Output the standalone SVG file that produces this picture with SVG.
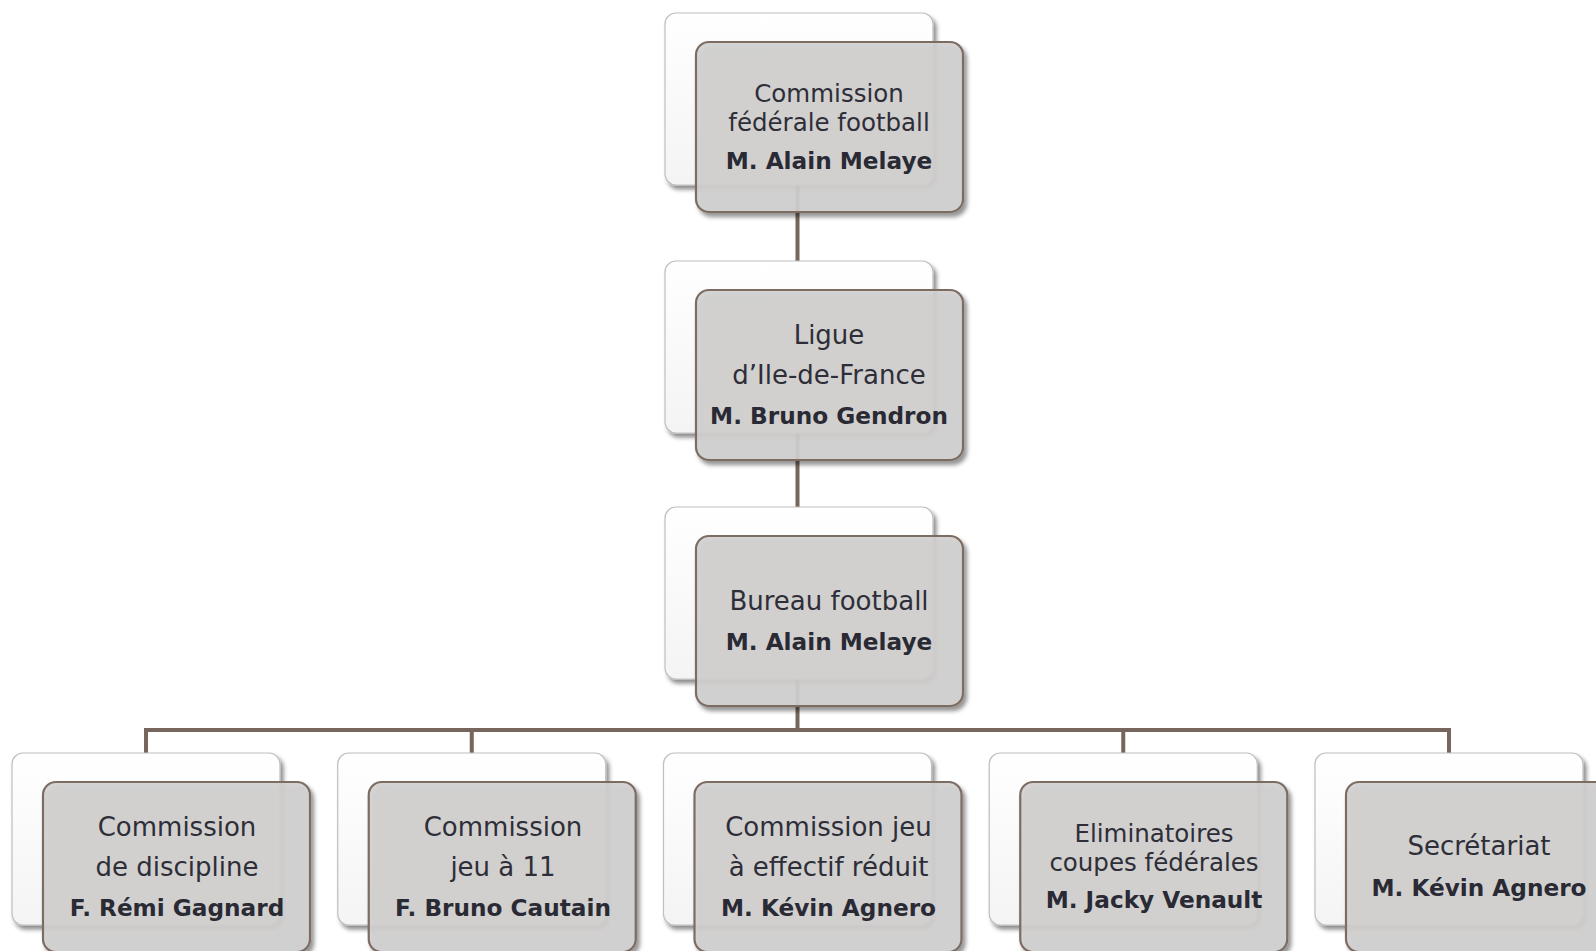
<svg xmlns="http://www.w3.org/2000/svg" width="1596" height="951" viewBox="0 0 1596 951">
<defs>
<filter id="sh" x="-10%" y="-10%" width="130%" height="130%">
<feDropShadow dx="3" dy="4" stdDeviation="2.2" flood-color="#000" flood-opacity="0.45"/>
</filter>
<linearGradient id="bg" x1="0" y1="0" x2="0" y2="1">
<stop offset="0" stop-color="#ffffff"/>
<stop offset="1" stop-color="#f4f4f4"/>
</linearGradient>
</defs>
<style>
.back{fill:url(#bg);stroke:#c2bfbd;stroke-width:1.2;filter:url(#sh)}
.front{fill:#d3d1d0;fill-opacity:0.9;stroke:#7d6c62;stroke-width:2.2;filter:url(#sh)}
.conn{stroke:#76665c;stroke-width:4;fill:none}
.t{font-family:"DejaVu Sans",sans-serif;font-size:26px;fill:#2e2e38;text-anchor:middle}
.s{font-size:24.5px}
.b{font-family:"DejaVu Sans",sans-serif;font-size:23.2px;font-weight:bold;fill:#2a2a35;text-anchor:middle}
</style>
<rect width="1596" height="951" fill="#ffffff"/>
<g id="connectors">
<path class="conn" d="M797.5 120 V730"/>
<path class="conn" d="M146 753 V730 H1449 V753"/>
<path class="conn" d="M471.75 730 V753 M1123.25 730 V753"/>
</g>
<g id="n1">
<rect class="back" x="665" y="13" width="268" height="172" rx="11"/>
<rect class="front" x="696" y="42" width="267" height="170" rx="13"/>
<text class="t s" x="829" y="102">Commission</text>
<text class="t s" x="829" y="131">fédérale football</text>
<text class="b" x="829" y="169">M. Alain Melaye</text>
</g>
<g id="n2">
<rect class="back" x="665" y="261" width="268" height="172" rx="11"/>
<rect class="front" x="696" y="290" width="267" height="170" rx="13"/>
<text class="t" x="829" y="344">Ligue</text>
<text class="t" x="829" y="384">d’Ile-de-France</text>
<text class="b" x="829" y="424">M. Bruno Gendron</text>
</g>
<g id="n3">
<rect class="back" x="665" y="507" width="268" height="172" rx="11"/>
<rect class="front" x="696" y="536" width="267" height="170" rx="13"/>
<text class="t" x="829" y="610">Bureau football</text>
<text class="b" x="829" y="650">M. Alain Melaye</text>
</g>
<g id="n4">
<rect class="back" x="12" y="753" width="268" height="172" rx="11"/>
<rect class="front" x="43" y="782" width="267" height="170" rx="13"/>
<text class="t" x="177" y="836">Commission</text>
<text class="t" x="177" y="876">de discipline</text>
<text class="b" x="177" y="916">F. Rémi Gagnard</text>
</g>
<g id="n5">
<rect class="back" x="337.75" y="753" width="268" height="172" rx="11"/>
<rect class="front" x="368.75" y="782" width="267" height="170" rx="13"/>
<text class="t" x="503" y="836">Commission</text>
<text class="t" x="503" y="876">jeu à 11</text>
<text class="b" x="503" y="916">F. Bruno Cautain</text>
</g>
<g id="n6">
<rect class="back" x="663.5" y="753" width="268" height="172" rx="11"/>
<rect class="front" x="694.5" y="782" width="267" height="170" rx="13"/>
<text class="t" x="828.5" y="836">Commission jeu</text>
<text class="t" x="828.5" y="876">à effectif réduit</text>
<text class="b" x="828.5" y="916">M. Kévin Agnero</text>
</g>
<g id="n7">
<rect class="back" x="989.25" y="753" width="268" height="172" rx="11"/>
<rect class="front" x="1020.25" y="782" width="267" height="170" rx="13"/>
<text class="t s" x="1154" y="842">Eliminatoires</text>
<text class="t s" x="1154" y="871">coupes fédérales</text>
<text class="b" x="1154" y="908">M. Jacky Venault</text>
</g>
<g id="n8">
<rect class="back" x="1315" y="753" width="268" height="172" rx="11"/>
<rect class="front" x="1346" y="782" width="267" height="170" rx="13"/>
<text class="t" x="1479" y="855">Secrétariat</text>
<text class="b" x="1479" y="896">M. Kévin Agnero</text>
</g>
</svg>
